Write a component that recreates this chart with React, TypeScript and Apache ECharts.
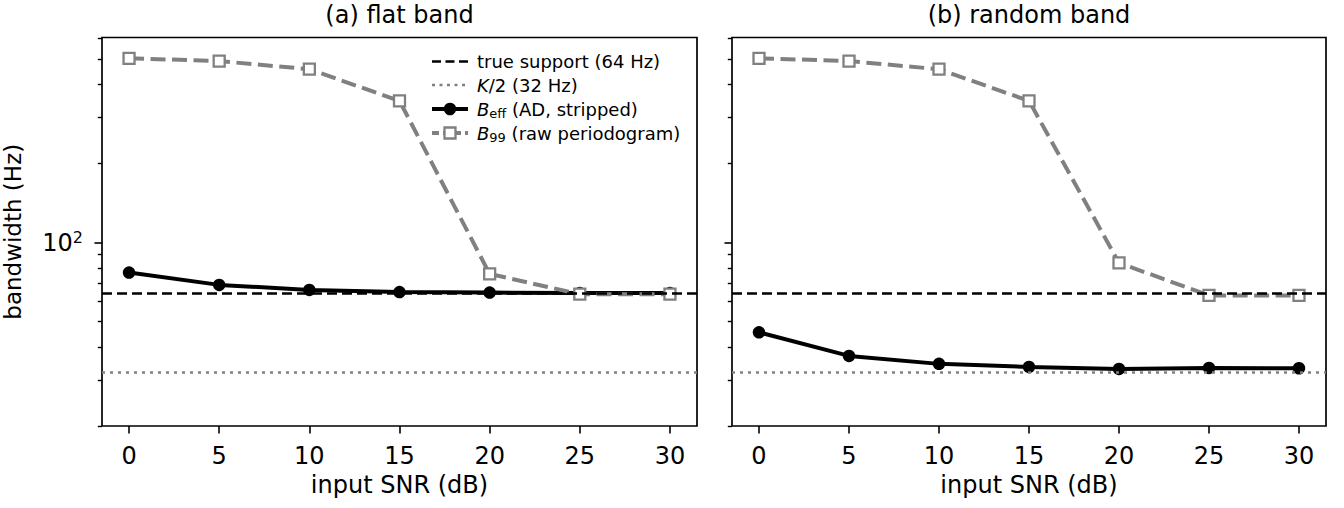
import React, { useEffect, useRef } from "react";
import * as echarts from "echarts";

// ---- data ----
const snr = [0, 5, 10, 15, 20, 25, 30];
const xTicks = [0, 5, 10, 15, 20, 25, 30];
const flatBeff = [76.9, 69.0, 66.0, 64.8, 64.5, 64.2, 64.2];
const flatB99 = [504, 492, 458, 347, 76, 63.6, 63.6];
const randBeff = [45.5, 37.0, 34.5, 33.6, 33.0, 33.3, 33.2];
const randB99 = [504, 492, 458, 347, 83.7, 62.9, 62.9];
const trueSupport = 64;
const halfK = 32;
const yMajor = [100];
const yMinor = [20, 30, 40, 50, 60, 70, 80, 90, 200, 300, 400, 500, 600];
const titles = ["(a) flat band", "(b) random band"];
const legendNames = [
  "true support (64 Hz)",
  "K/2 (32 Hz)",
  "B_eff (AD, stripped)",
  "B_99 (raw periodogram)",
];

const FONT = "DejaVu Sans";
const GRAY = "#808080";
const GRIDS = [
  { left: 102, top: 37.5, width: 595, height: 388.5 },
  { left: 732, top: 37.5, width: 594, height: 388.5 },
];

function buildSeries(i: number, beff: number[], b99: number[]) {
  return [
    {
      name: legendNames[0],
      type: "line",
      xAxisIndex: i,
      yAxisIndex: 2 * i,
      data: [],
      silent: true,
      markLine: {
        silent: true,
        symbol: ["none", "none"],
        label: { show: false },
        lineStyle: { color: "#000", width: 2.6, type: [10, 5], cap: "butt" },
        data: [{ yAxis: trueSupport }],
      },
    },
    {
      name: legendNames[1],
      type: "line",
      xAxisIndex: i,
      yAxisIndex: 2 * i,
      data: [],
      silent: true,
      markLine: {
        silent: true,
        symbol: ["none", "none"],
        label: { show: false },
        lineStyle: { color: GRAY, width: 2.6, type: [3, 5], cap: "butt" },
        data: [{ yAxis: halfK }],
      },
    },
    {
      name: legendNames[2],
      type: "line",
      xAxisIndex: i,
      yAxisIndex: 2 * i,
      data: snr.map((x, k) => [x, beff[k]]),
      symbol: "circle",
      symbolSize: 12.5,
      lineStyle: { color: "#000", width: 4 },
      itemStyle: { color: "#000" },
      z: 3,
    },
    {
      name: legendNames[3],
      type: "line",
      xAxisIndex: i,
      yAxisIndex: 2 * i,
      data: snr.map((x, k) => [x, b99[k]]),
      symbol: "rect",
      symbolSize: 11,
      lineStyle: { color: GRAY, width: 4, type: [15, 6.5], cap: "butt" },
      itemStyle: { color: "#fff", borderColor: GRAY, borderWidth: 2.3 },
      z: 4,
    },
  ];
}

function xAxis(i: number) {
  return {
    type: "value",
    gridIndex: i,
    min: -1.5,
    max: 31.5,
    position: "bottom",
    name: "input SNR (dB)",
    nameLocation: "middle",
    nameGap: 43,
    nameTextStyle: { fontFamily: FONT, fontSize: 24, color: "#000" },
    axisLine: { show: false, onZero: false },
    splitLine: { show: false },
    axisTick: {
      show: true,
      length: 7.5,
      customValues: xTicks,
      lineStyle: { color: "#000", width: 1.6 },
    },
    axisLabel: {
      customValues: xTicks,
      margin: 18,
      fontFamily: FONT,
      fontSize: 24,
      color: "#000",
    },
  };
}

function yAxes(i: number, showLabel: boolean) {
  const base = {
    type: "log",
    logBase: 10,
    gridIndex: i,
    min: 20,
    max: 605,
    position: "left",
    offset: 0,
    axisLine: { show: false, onZero: false },
    splitLine: { show: false },
    minorTick: { show: false },
  };
  return [
    {
      ...base,
      axisTick: {
        show: true,
        length: 7.5,
        customValues: yMajor,
        lineStyle: { color: "#000", width: 1.6 },
      },
      axisLabel: {
        show: showLabel,
        customValues: yMajor,
        margin: 19,
        formatter: () => "{a|10}{b|2}",
        rich: {
          a: { fontFamily: FONT, fontSize: 24, color: "#000", lineHeight: 26 },
          b: {
            fontFamily: FONT,
            fontSize: 16,
            color: "#000",
            lineHeight: 16,
            verticalAlign: "top",
          },
        },
      },
    },
    {
      ...base,
      axisTick: {
        show: true,
        length: 4.2,
        customValues: yMinor,
        lineStyle: { color: "#000", width: 1.4 },
      },
      axisLabel: { show: false },
    },
  ];
}

function legendGraphics() {
  const x0 = 432;
  const x1 = 468;
  const xm = (x0 + x1) / 2;
  const tx = 477;
  const rows = [61.5, 85, 109, 133];
  const textStyleBase = {
    fontFamily: FONT,
    fontSize: 18,
    fill: "#000",
    align: "left",
    verticalAlign: "middle",
    textAlign: "left",
    textVerticalAlign: "middle",
  };
  const rich = {
    r: { fontFamily: FONT, fontSize: 18, fill: "#000", color: "#000", lineHeight: 22 },
    i: {
      fontFamily: FONT,
      fontSize: 18,
      fontStyle: "italic",
      fill: "#000",
      color: "#000",
      lineHeight: 22,
    },
    s: {
      fontFamily: FONT,
      fontSize: 13,
      fill: "#000",
      color: "#000",
      lineHeight: 13,
      verticalAlign: "bottom",
    },
  };
  const labels = [
    "{r|true support (64 Hz)}",
    "{i|K}{r|/2 (32 Hz)}",
    "{i|B}{s|eff}{r| (AD, stripped)}",
    "{i|B}{s|99}{r| (raw periodogram)}",
  ];
  const els: any[] = [];
  els.push({
    type: "line",
    shape: { x1: x0, y1: rows[0], x2: x1, y2: rows[0] },
    style: { stroke: "#000", lineWidth: 2.6, lineDash: [9, 4.5] },
  });
  els.push({
    type: "line",
    shape: { x1: x0, y1: rows[1], x2: x1, y2: rows[1] },
    style: { stroke: GRAY, lineWidth: 2.6, lineDash: [3, 4.5] },
  });
  els.push({
    type: "line",
    shape: { x1: x0, y1: rows[2], x2: x1, y2: rows[2] },
    style: { stroke: "#000", lineWidth: 4 },
  });
  els.push({
    type: "circle",
    shape: { cx: xm, cy: rows[2], r: 6.25 },
    style: { fill: "#000" },
  });
  els.push({
    type: "line",
    shape: { x1: x0, y1: rows[3], x2: x1, y2: rows[3] },
    style: { stroke: GRAY, lineWidth: 4, lineDash: [7, 4] },
  });
  els.push({
    type: "rect",
    shape: { x: xm - 5.5, y: rows[3] - 5.5, width: 11, height: 11 },
    style: { fill: "#fff", stroke: GRAY, lineWidth: 2.3 },
  });
  labels.forEach((t, k) => {
    els.push({
      type: "text",
      x: tx,
      y: rows[k],
      style: { ...textStyleBase, text: t, rich },
    });
  });
  return els;
}

export default function App() {
  const ref = useRef<HTMLDivElement>(null);
  useEffect(() => {
    if (!ref.current) return;
    const chart = echarts.init(ref.current, undefined, { renderer: "svg" });
    const graphics: any[] = [
      ...titles.map((t, i) => ({
        type: "text",
        x: GRIDS[i].left + GRIDS[i].width / 2,
        y: 15,
        style: {
          text: t,
          fontFamily: FONT,
          fontSize: 24,
          fill: "#000",
          align: "center",
          verticalAlign: "middle",
          textAlign: "center",
          textVerticalAlign: "middle",
        },
      })),
      {
        type: "text",
        x: 13,
        y: GRIDS[0].top + GRIDS[0].height / 2,
        rotation: Math.PI / 2,
        style: {
          text: "bandwidth (Hz)",
          fontFamily: FONT,
          fontSize: 23,
          fill: "#000",
          align: "center",
          verticalAlign: "middle",
          textAlign: "center",
          textVerticalAlign: "middle",
        },
      },
      ...legendGraphics(),
    ];
    chart.setOption({
      animation: false,
      backgroundColor: "#fff",
      grid: GRIDS.map((g) => ({
        ...g,
        show: true,
        borderColor: "#000",
        borderWidth: 1.7,
        backgroundColor: "transparent",
        containLabel: false,
      })),
      xAxis: [xAxis(0), xAxis(1)],
      yAxis: [...yAxes(0, true), ...yAxes(1, false)],
      series: [
        ...buildSeries(0, flatBeff, flatB99),
        ...buildSeries(1, randBeff, randB99),
      ],
      graphic: graphics,
    });
    return () => chart.dispose();
  }, []);
  return (
    <div
      ref={ref}
      style={{ position: "fixed", left: 0, top: 0, width: 1344, height: 508 }}
    />
  );
}
